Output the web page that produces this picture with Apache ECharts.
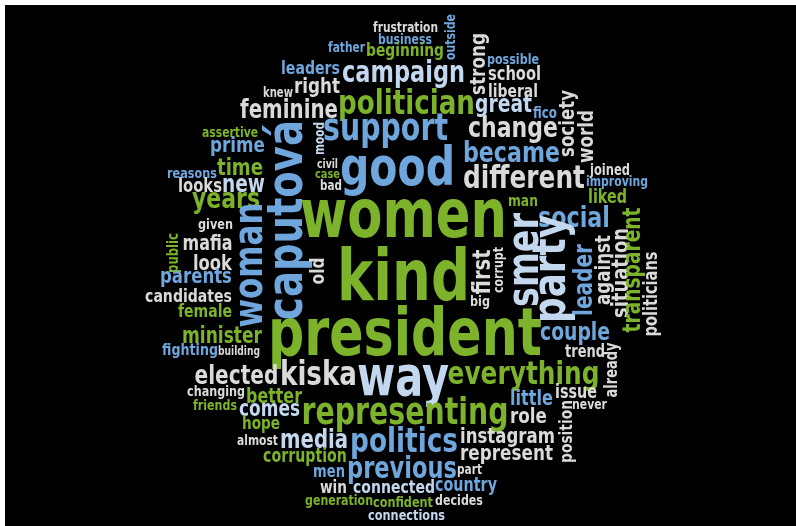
<!DOCTYPE html>
<html>
<head>
<meta charset="utf-8">
<script src="https://cdn.jsdelivr.net/npm/echarts@6/dist/echarts.min.js"></script>
<style>html,body{margin:0;padding:0;background:#fff}#c{width:796px;height:526px}</style>
</head>
<body>
<div id="c"></div>
<script>
// ---- data: words and their colour group ----
const words = ["frustration","business","father","beginning","outside","leaders","campaign","strong","possible","school",
"knew","right","liberal","feminine","politician","great","fico","society","world","change",
"support","assertive","mood","prime","time","civil","case","bad","reasons","looks",
"new","years","good","became","different","joined","improving","liked","man","social",
"women","kind","president","woman","caputová","smer","party","leader","against","situation",
"transparent","politicians","first","corrupt","big","old","couple","trend","already","everything",
"way","kiska","elected","representing","better","changing","friends","comes","hope","almost",
"media","politics","little","issue","never","role","position","instagram","represent","corruption",
"men","previous","part","win","connected","country","generation","confident","decides","connections",
"mafia","given","public","look","parents","candidates","female","minister","fighting","building"];
const colorGroup = ["W","B","B","G","B","B","L","W","B","W",
"W","W","W","W","G","L","B","W","W","W",
"B","G","L","B","G","W","G","W","B","W",
"L","G","B","B","W","W","B","G","G","B",
"G","G","G","B","B","L","L","B","W","W",
"G","W","W","W","W","W","B","W","W","G",
"L","W","W","G","G","W","G","L","G","W",
"L","B","B","W","W","W","W","W","W","G",
"B","B","W","W","L","B","G","G","W","L",
"W","W","G","W","B","W","G","G","B","W"];
// ---- layout: anchor x, anchor y, rotation, word length in px ----
const posX = [405.5,405,346.5,405,455,310.5,403.5,485,513,514.5,
278,317,513,289,406.5,503.5,545,574,593,513,
385.5,230,324,237.5,240,327.5,327.5,331,192,200,
243.5,226,397.5,511.5,524,610,617,607.5,523,574,
403.5,403.5,405,262,302,538,565,592,610,628,
640,657,490,503,480,324,575,585,617,523.5,
403,318.5,236.5,405,274,216,215,269.5,261,257.5,
314,404,531.5,576,589.5,528.5,572,507.5,506.5,305,
329,402,469.5,333.5,394,466,339,403,459,406.5,
207.5,215.5,178,212.5,196,188.5,205,222,190,239];
const posY = [32,44,52,56,37,74,82,64,64,80,
97,93,97,118,114,112,118,123.5,136.5,137,
140,137,138.5,152,175,168,178,190,178,192,
192,208,185,162,188,175,186,203,206,227,
237,300,355,265,220,260,269,280,270,273,
270,294,272,270,306,271,340,357,370,384,
395,385,384,424,403,396,410,416,429,445,
448,452,405,398,409,423,431.5,443,460,462,
477,478,474,493,493,491,505,507,505,520,
250,229,253,270,283,302,317,343,355,355];
const rotation = [0,0,0,0,90,0,0,90,0,0,
0,0,0,0,0,0,0,90,90,0,
0,0,90,0,0,0,0,0,0,0,
0,0,0,0,0,0,0,0,0,0,
0,0,0,90,90,90,90,90,90,90,
90,90,90,90,0,90,0,0,90,0,
0,0,0,0,0,0,0,0,0,0,
0,0,0,0,0,0,90,0,0,0,
0,0,0,0,0,0,0,0,0,0,
0,0,90,0,0,0,0,0,0,0];
const extent = [65,54,37,78,46,59,123,62,52,53,
30,46,50,98,137,57,24,67,53,90,
125,56,33,55,46,21,25,22,50,44,
43,68,115,97,122,40,62,39,30,72,
207,133,274,125,200,94,108,72,70,90,
125,85,45,46,20,27,70,40,55,152,
92,77,84,207,56,58,44,61,38,41,
68,108,43,42,35,37,63,95,93,84,
32,110,25,27,82,62,68,60,48,77,
50,35,40,39,72,87,54,80,56,42];

const palette = {G:'#7cb32a', B:'#6fa6dc', L:'#c3d8ee', W:'#dadada'};
const FONT = "'Liberation Sans Narrow','DejaVu Sans Condensed','Arial Narrow',sans-serif";
const SX = 0.85;

const cvs = document.createElement('canvas');
const ctx = cvs.getContext('2d');
ctx.font = 'bold 100px ' + FONT;
ctx.textBaseline = 'middle';
const kMid = (ctx.measureText('x').actualBoundingBoxDescent || 31) / 100;
function unitWidth(w){ return ctx.measureText(w).width / 100; }

const data = words.map((w, i) => [posX[i], posY[i], i]);

const chart = echarts.init(document.getElementById('c'), null, {renderer:'canvas'});
chart.setOption({
  backgroundColor: '#ffffff',
  animation: false,
  graphic: [{type:'rect', left:5, top:5, shape:{width:791, height:521}, style:{fill:'#000'}, z:-10, silent:true}],
  grid: {left:0, right:0, top:0, bottom:0},
  xAxis: {type:'value', min:0, max:796, show:false},
  yAxis: {type:'value', min:0, max:526, inverse:true, show:false},
  series: [{
    type: 'custom',
    silent: true,
    data: data,
    renderItem: function(params, api){
      const i = api.value(2);
      const p = api.coord([api.value(0), api.value(1)]);
      const word = words[i];
      const fs = extent[i] / (unitWidth(word) * SX);
      const off = kMid * fs;
      const rot = rotation[i];
      let x = p[0], y = p[1];
      if (rot === 90) { x -= off; } else { y -= off; }
      return {
        type: 'text',
        x: x, y: y,
        rotation: rot * Math.PI / 180,
        scaleX: SX,
        style: {
          text: word,
          fontSize: fs,
          fontFamily: FONT,
          fontWeight: 'bold',
          fill: palette[colorGroup[i]],
          align: 'center',
          verticalAlign: 'middle'
        }
      };
    }
  }]
});
</script>
</body>
</html>
